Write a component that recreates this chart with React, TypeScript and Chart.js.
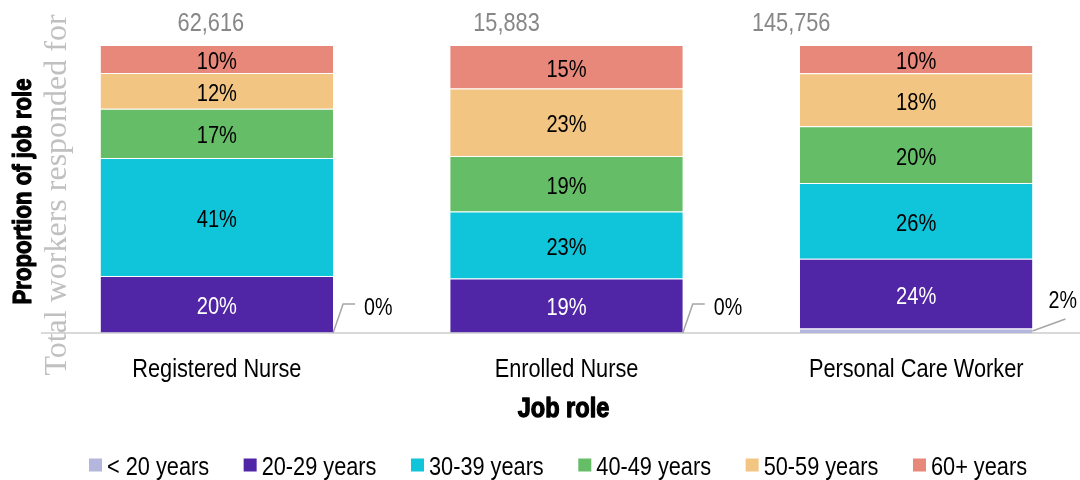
import React, { useEffect, useRef } from "react";
import { Chart, registerables } from "chart.js";

Chart.register(...registerables);

const categories = ["Registered Nurse", "Enrolled Nurse", "Personal Care Worker"];
const totalWorkers = [62616, 15883, 145756];
const seriesNames = ["< 20 years", "20-29 years", "30-39 years", "40-49 years", "50-59 years", "60+ years"];
const under20 = [0.2, 0.2, 1.6];
const age20to29 = [19.6, 18.7, 24.2];
const age30to39 = [41.0, 23.3, 26.3];
const age40to49 = [17.1, 19.3, 19.7];
const age50to59 = [12.4, 23.4, 18.4];
const age60plus = [9.7, 15.1, 9.8];

const seriesValues = [under20, age20to29, age30to39, age40to49, age50to59, age60plus];
const seriesColors = ["#b4b6de", "#5026a7", "#10c5da", "#65bd67", "#f2c582", "#e7887a"];
const labelColors = ["#000", "#fff", "#000", "#000", "#000", "#000"];

const SANS = '"Liberation Sans", Arial, sans-serif';
const SERIF = '"Liberation Serif", "Times New Roman", serif';
const NARROW_X = 0.82;

// horizontal offsets of the total labels relative to each category centre
const totalOffsets = [-6, -60, -125];

function drawNarrow(
  ctx: CanvasRenderingContext2D,
  text: string,
  x: number,
  y: number,
  size: number,
  color: string,
  align: CanvasTextAlign,
  opts: { weight?: string; sx?: number; rotate?: number; stroke?: number } = {}
) {
  ctx.save();
  ctx.translate(x, y);
  if (opts.rotate) ctx.rotate(opts.rotate);
  ctx.scale(opts.sx ?? NARROW_X, 1);
  ctx.font = `${opts.weight ?? "normal"} ${size}px ${SANS}`;
  ctx.fillStyle = color;
  ctx.textAlign = align;
  ctx.textBaseline = "alphabetic";
  ctx.fillText(text, 0, 0);
  if (opts.stroke) {
    ctx.strokeStyle = color;
    ctx.lineWidth = opts.stroke;
    ctx.lineJoin = "round";
    ctx.strokeText(text, 0, 0);
  }
  ctx.restore();
}

const overlayPlugin = {
  id: "overlay",
  afterDatasetsDraw(chart: any) {
    const ctx: CanvasRenderingContext2D = chart.ctx;
    const area = chart.chartArea;
    const xs = chart.scales.x;
    ctx.save();
    // segment labels
    chart.data.datasets.forEach((ds: any, di: number) => {
      const meta = chart.getDatasetMeta(di);
      meta.data.forEach((el: any, i: number) => {
        const { x, y, base, width } = el.getProps(["x", "y", "base", "width"], true);
        const v = ds.data[i] as number;
        const txt = Math.round(v) + "%";
        if (di === 0) {
          const rx = x + width / 2;
          ctx.strokeStyle = "#a6a6a6";
          ctx.lineWidth = 1.5;
          ctx.beginPath();
          if (Math.round(v) >= 1) {
            ctx.moveTo(rx, base - 2);
            ctx.lineTo(rx + 33, base - 14);
            ctx.stroke();
            drawNarrow(ctx, txt, rx + 16, base - 25, 24, "#000", "left");
          } else {
            ctx.moveTo(rx, base);
            ctx.lineTo(rx + 10, base - 29);
            ctx.lineTo(rx + 22, base - 29);
            ctx.stroke();
            drawNarrow(ctx, txt, rx + 31, base - 18, 24, "#000", "left");
          }
        } else {
          drawNarrow(ctx, txt, x, (y + base) / 2 + 10, 24.5, labelColors[di], "center");
        }
      });
    });
    // category labels
    categories.forEach((c, i) => {
      drawNarrow(ctx, c, xs.getPixelForValue(i), area.bottom + 44, 26.5, "#000", "center");
    });
    // x title
    drawNarrow(ctx, "Job role", (area.left + area.right) / 2 - 3, area.bottom + 84, 28, "#000", "center", {
      weight: "bold",
      sx: 0.84,
      stroke: 1.3,
    });
    // totals
    totalWorkers.forEach((t, i) => {
      drawNarrow(ctx, t.toLocaleString("en-US"), xs.getPixelForValue(i) + totalOffsets[i], 31, 26.5, "#878787", "center");
    });
    // y titles
    ctx.save();
    ctx.translate(58, 195);
    ctx.rotate(-Math.PI / 2);
    ctx.font = `32px ${SERIF}`;
    ctx.fillStyle = "#c0c0c0";
    ctx.textAlign = "center";
    ctx.textBaseline = "middle";
    ctx.fillText("Total workers responded for", 0, 0);
    ctx.restore();
    drawNarrow(ctx, "Proportion of job role", 31, 191.5, 26, "#000", "center", {
      weight: "bold",
      sx: 0.85,
      rotate: -Math.PI / 2,
      stroke: 1.2,
    });
    // legend
    ctx.font = `26.5px ${SANS}`;
    const box = 13, gapText = 5;
    const startX = 89, endX = 1027, ly = 465;
    const widths = seriesNames.map((n) => box + gapText + ctx.measureText(n).width * NARROW_X);
    const sum = widths.reduce((a, b) => a + b, 0);
    const gapItem = (endX - startX - sum) / (widths.length - 1);
    let lx = startX;
    seriesNames.forEach((n, i) => {
      ctx.fillStyle = seriesColors[i];
      ctx.fillRect(lx, ly - box / 2, box, box);
      drawNarrow(ctx, n, lx + box + gapText, ly + 9.5, 26.5, "#000", "left");
      lx += widths[i] + gapItem;
    });
    ctx.restore();
  },
};

export default function App() {
  const ref = useRef<HTMLCanvasElement | null>(null);
  useEffect(() => {
    if (!ref.current) return;
    const chart = new Chart(ref.current, {
      type: "bar",
      data: {
        labels: categories,
        datasets: seriesNames.map((name, i) => ({
          label: name,
          data: seriesValues[i],
          backgroundColor: seriesColors[i],
          borderColor: "rgba(255,255,255,0.35)",
          borderWidth: { top: 1, bottom: 0, left: 0, right: 0 },
          borderSkipped: false,
          barPercentage: 0.665,
          categoryPercentage: 1,
        })),
      },
      options: {
        animation: false,
        responsive: true,
        maintainAspectRatio: false,
        layout: { padding: { left: 42, top: 45, right: 0, bottom: 147 } },
        plugins: { legend: { display: false }, tooltip: { enabled: false } },
        scales: {
          x: {
            stacked: true,
            grid: { display: false, drawTicks: false },
            border: { display: true, color: "#d9d9d9", width: 2 },
            ticks: { display: false },
          },
          y: { stacked: true, display: false, min: 0, max: 100 },
        },
      },
      plugins: [overlayPlugin],
    });
    return () => chart.destroy();
  }, []);
  return (
    <div style={{ position: "fixed", left: 0, top: 0, width: 1091, height: 480, background: "#fff" }}>
      <canvas ref={ref} />
    </div>
  );
}
